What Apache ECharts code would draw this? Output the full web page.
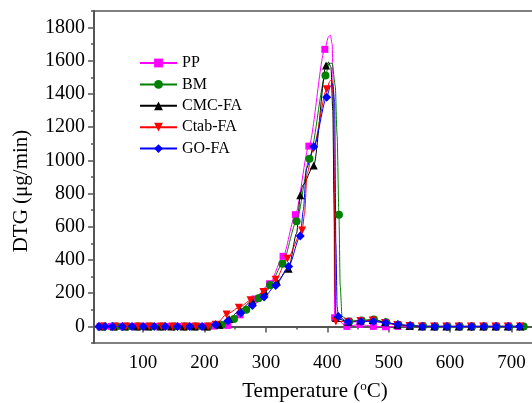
<!DOCTYPE html>
<html>
<head>
<meta charset="utf-8">
<script src="https://cdn.jsdelivr.net/npm/echarts@6/dist/echarts.min.js"></script>
<style>
  html, body { margin: 0; padding: 0; background: #fff; }
  #chart { width: 532px; height: 403px; }
</style>
</head>
<body>
<div id="chart"></div>
<script>
// tick labels
const xTicks = [100, 200, 300, 400, 500, 600, 700]
const xMinorTicks = [50, 150, 250, 350, 450, 550, 650, 750]
const yTicks = [0, 200, 400, 600, 800, 1000, 1200, 1400, 1600, 1800]
const yMinorTicks = [-100, 100, 300, 500, 700, 900, 1100, 1300, 1500, 1700, 1900]

// [temperature, DTG] at the marker positions
const ppMarks = [[30,0],[48,0],[66,0],[84,0],[102,0],[120,0],[138,0],[156,0],[176,0],[196,0],[216,2],[238,6],[258,70],[282,165],[306,257],[328,422],[348,673],[370,1086],[396,1669],[412,52],[432,0],[453,12],[475,0],[495,-2],[515,0],[535,0],[555,0],[575,0],[595,0],[615,0],[635,0],[655,0],[675,0],[695,0],[715,0]]
const bmMarks = [[36,0],[56,0],[74,0],[92,0],[112,0],[130,0],[150,0],[168,0],[186,0],[206,0],[228,8],[248,45],[268,100],[288,170],[307,250],[327,378],[350,634],[371,1010],[397,1512],[419,673],[436,30],[456,36],[476,42],[496,25],[516,10],[536,4],[556,2],[576,0],[596,0],[616,0],[636,0],[656,0],[676,0],[696,0],[720,0]]
const cmcMarks = [[32,0],[52,0],[70,0],[90,0],[108,0],[128,0],[146,0],[166,0],[184,0],[204,0],[224,10],[240,45],[258,100],[278,155],[298,210],[318,270],[337,348],[356,790],[378,970],[398,1572],[414,50],[434,28],[454,35],[474,38],[494,25],[514,10],[534,3],[554,0],[574,0],[594,0],[614,0],[634,0],[654,0],[674,0],[694,0],[714,0]]
const ctabMarks = [[34,0],[54,0],[72,0],[92,0],[110,0],[130,0],[148,0],[168,0],[186,0],[206,0],[218,10],[236,72],[256,113],[275,157],[296,207],[316,281],[335,408],[359,578],[377,1070],[399,1428],[414,30],[434,28],[454,32],[474,35],[494,20],[514,8],[534,2],[554,0],[574,0],[594,0],[614,0],[634,0],[654,0],[674,0],[694,0],[714,0]]
const goMarks = [[28,0],[38,0],[50,0],[66,0],[82,0],[100,0],[118,0],[136,0],[156,0],[176,0],[196,0],[218,10],[238,32],[259,80],[278,126],[297,177],[316,247],[337,361],[356,545],[378,1082],[399,1381],[418,60],[434,26],[455,30],[475,30],[495,22],[515,12],[535,5],[555,0],[575,0],[595,0],[615,0],[635,0],[655,0],[675,0],[695,0],[713,0]]

// extra curve points without markers (peak and drop)
const ppCurve = [[402,1745],[405,1755],[408,1700],[410,1350],[411,700]]
const bmCurve = [[403,1585],[408,1585],[413,1450],[416,1150],[421,250],[424,60]]
const cmcCurve = [[350,560],[360,850],[402,1592],[406,1560],[409,1300],[411,800],[413,200]]
const ctabCurve = [[363,680],[367,920],[404,1475],[407,1486],[410,1400],[412,800],[413,200]]
const goCurve = [[361,700],[366,950],[405,1445],[409,1462],[412,1350],[414,500],[416,120]]

const names = ['PP', 'BM', 'CMC-FA', 'Ctab-FA', 'GO-FA']
const colors = ['#ff00ff', '#008000', '#000000', '#ff0000', '#0000ff']
const marks = [ppMarks, bmMarks, cmcMarks, ctabMarks, goMarks]
const curves = [ppCurve, bmCurve, cmcCurve, ctabCurve, goCurve]
const symbols = ['rect', 'circle', 'triangle', 'triangle', 'diamond']
const symbolSizes = [7, 8, 8, 8, 9]
const symbolRotates = [0, 0, 0, 180, 0]

const fontFamily = '"Liberation Serif", "Times New Roman", serif'
const axisColor = '#555'

// 合并标记点和曲线点, 曲线点不画标记
function buildData (mk, cv) {
  const pts = mk.map(p => ({ value: p }))
    .concat(cv.map(p => ({ value: p, symbol: 'none' })))
  pts.sort((a, b) => a.value[0] - b.value[0])
  return pts
}

const seriesArr = names.map((name, i) => {
  return {
    name: name,
    type: 'line',
    data: buildData(marks[i], curves[i]),
    smooth: 0.25,
    smoothMonotone: 'x',
    symbol: symbols[i],
    symbolSize: symbolSizes[i],
    symbolRotate: symbolRotates[i],
    showAllSymbol: true,
    lineStyle: { color: colors[i], width: 1 },
    itemStyle: { color: colors[i] },
    emphasis: { disabled: true },
    animation: false
  }
})

const chart = echarts.init(document.getElementById('chart'))
const option = {
  backgroundColor: '#fff',
  grid: {
    left: 94,
    right: -4,
    top: 11,
    bottom: 60,
    outerBoundsMode: 'none',
    show: true,
    borderColor: axisColor,
    borderWidth: 1.5
  },
  legend: {
    data: names,
    orient: 'vertical',
    left: 139,
    top: 55,
    padding: 0,
    itemWidth: 37,
    itemHeight: 11,
    itemGap: 5.4,
    textStyle: { fontFamily: fontFamily, fontSize: 16, color: '#000' }
  },
  xAxis: [
    {
      type: 'value',
      min: 20,
      max: 740,
      name: 'Temperature ({sup|o}C)',
      nameLocation: 'middle',
      nameGap: 37,
      nameTextStyle: {
        fontFamily: fontFamily,
        fontSize: 21,
        color: '#000',
        rich: {
          sup: { fontFamily: fontFamily, fontSize: 13, color: '#000', verticalAlign: 'top', padding: [0, 0, 10, 0] }
        }
      },
      axisLine: { lineStyle: { color: axisColor, width: 2 } },
      axisTick: { customValues: xTicks, length: 6, lineStyle: { color: axisColor, width: 1.5 } },
      axisLabel: { customValues: xTicks, fontFamily: fontFamily, fontSize: 19, color: '#000', margin: 11 },
      splitLine: { show: false }
    },
    {
      type: 'value',
      min: 20,
      max: 740,
      position: 'bottom',
      axisLine: { show: false },
      axisTick: { customValues: xMinorTicks, length: 3, lineStyle: { color: axisColor, width: 1.5 } },
      axisLabel: { show: false },
      splitLine: { show: false }
    }
  ],
  yAxis: [
    {
      type: 'value',
      min: -100,
      max: 1900,
      name: 'DTG (μg/min)',
      nameLocation: 'middle',
      nameGap: 62,
      nameTextStyle: { fontFamily: fontFamily, fontSize: 21, color: '#000', padding: [0, 28, 0, 0] },
      axisLine: { show: true, lineStyle: { color: axisColor, width: 2 } },
      axisTick: { show: true, customValues: yTicks, length: 6, lineStyle: { color: axisColor, width: 1.5 } },
      axisLabel: {
        customValues: yTicks,
        formatter: v => String(v),
        fontFamily: fontFamily,
        fontSize: 20,
        color: '#000',
        margin: 9
      },
      splitLine: { show: false }
    },
    {
      type: 'value',
      min: -100,
      max: 1900,
      position: 'left',
      axisLine: { show: false },
      axisTick: { show: true, customValues: yMinorTicks, length: 3, lineStyle: { color: axisColor, width: 1.5 } },
      axisLabel: { show: false },
      splitLine: { show: false }
    }
  ],
  series: seriesArr
}
chart.setOption(option)
</script>
</body>
</html>
